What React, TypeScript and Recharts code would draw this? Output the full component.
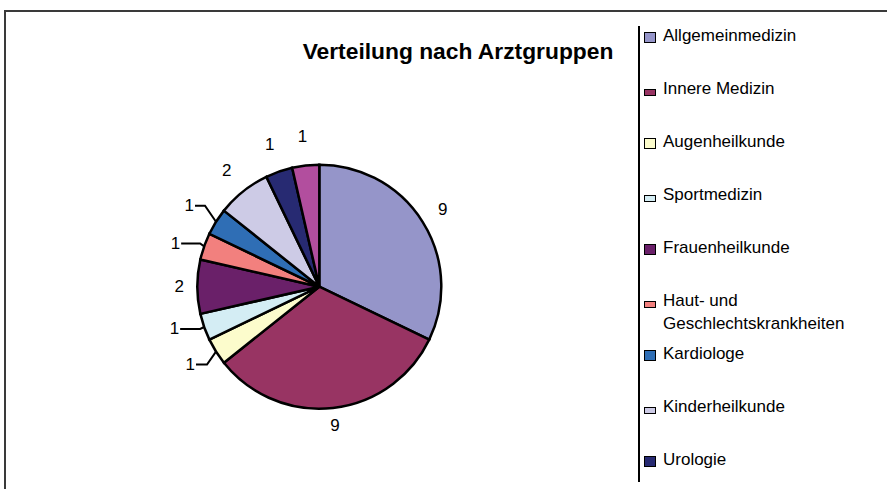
import React from "react";
import { PieChart, Pie, Cell } from "recharts";

const categories = [
  "Allgemeinmedizin",
  "Innere Medizin",
  "Augenheilkunde",
  "Sportmedizin",
  "Frauenheilkunde",
  "Haut- und Geschlechtskrankheiten",
  "Kardiologe",
  "Kinderheilkunde",
  "Urologie",
  "Sonstige",
];
const counts = [9, 9, 1, 1, 2, 1, 1, 2, 1, 1];
const colors = [
  "#9595C9",
  "#983463",
  "#FCFCCC",
  "#D4EDF4",
  "#6A2069",
  "#F2807E",
  "#2F6EB5",
  "#CDCBE6",
  "#272A72",
  "#B24E9E",
];
const legendCount = 9;
const legendLines: Record<number, string[]> = { 5: ["Haut- und", "Geschlechtskrankheiten"] };

const data = categories.map((name, i) => ({ name, value: counts[i] }));

const FONT = '"Liberation Sans", Arial, sans-serif';
const R = 122;
// styling: leader line offsets [elbow dx, elbow dy, horizontal length]
const leaderStyle: Record<number, [number, number, number]> = {
  2: [-9, 13, 11],
  3: [-4, 2, 20],
  5: [-4, -3, 19],
  6: [-11, -16, 10],
};

const RAD = Math.PI / 180;

const renderLabel = (props: any) => {
  const { cx, cy, midAngle, outerRadius, index, value } = props;
  const c = Math.cos(-midAngle * RAD);
  const s = Math.sin(-midAngle * RAD);
  const ld = leaderStyle[index];
  if (ld) {
    const ex = cx + outerRadius * c;
    const ey = cy + outerRadius * s;
    const bx = ex + ld[0];
    const by = ey + ld[1];
    const hx = bx - ld[2];
    return (
      <g key={`lbl-${index}`}>
        <polyline
          points={`${ex},${ey} ${bx},${by} ${hx},${by}`}
          fill="none"
          stroke="#000"
          strokeWidth={2}
        />
        <text
          x={hx - 1}
          y={by}
          textAnchor="end"
          dominantBaseline="central"
          fontFamily={FONT}
          fontSize={17}
          fill="#000"
        >
          {value}
        </text>
      </g>
    );
  }
  const up = Math.max(0, -s);
  const r = outerRadius + 18 + 11 * up;
  return (
    <text
      key={`lbl-${index}`}
      x={cx + r * c}
      y={cy + r * s}
      textAnchor="middle"
      dominantBaseline="central"
      fontFamily={FONT}
      fontSize={17}
      fill="#000"
    >
      {value}
    </text>
  );
};

export default function App() {
  return (
    <div
      style={{
        position: "absolute",
        left: 0,
        top: 0,
        width: 887,
        height: 489,
        background: "#fff",
        overflow: "hidden",
        fontFamily: FONT,
      }}
    >
      <div style={{ position: "absolute", left: 4, top: 10, width: 883, height: 2, background: "#3a3a3a" }} />
      <div style={{ position: "absolute", left: 4, top: 10, width: 2, height: 479, background: "#3a3a3a" }} />
      <div
        style={{
          position: "absolute",
          left: 258,
          top: 38,
          width: 400,
          lineHeight: "26px",
          textAlign: "center",
          fontWeight: "bold",
          fontSize: 22.8,
          color: "#000",
        }}
      >
        Verteilung nach Arztgruppen
      </div>
      <div style={{ position: "absolute", left: 0, top: 0 }}>
        <PieChart width={887} height={489} margin={{ top: 0, right: 0, bottom: 0, left: 0 }}>
          <Pie
            data={data}
            dataKey="value"
            nameKey="name"
            cx={319.3}
            cy={286.7}
            outerRadius={R}
            startAngle={90}
            endAngle={-270}
            stroke="#000"
            strokeWidth={2.5}
            label={renderLabel}
            labelLine={false}
            isAnimationActive={false}
          >
            {data.map((d, i) => (
              <Cell key={d.name} fill={colors[i]} />
            ))}
          </Pie>
        </PieChart>
      </div>
      <div style={{ position: "absolute", left: 638, top: 26, width: 2, height: 456, background: "#000" }} />
      <div style={{ position: "absolute", left: 644, top: 25.4 }}>
        {categories.slice(0, legendCount).map((name, i) => {
          const h = i % 2 === 0 ? 11 : 7;
          const lines = legendLines[i] || [name];
          return (
            <div key={name} style={{ display: "flex", height: 53, alignItems: "flex-start" }}>
              <div
                style={{
                  width: 12,
                  height: h,
                  marginTop: 18 - h,
                  boxSizing: "border-box",
                  border: "1.6px solid #000",
                  background: colors[i],
                  flex: "none",
                }}
              />
              <div
                style={{
                  marginLeft: 7,
                  fontSize: 17,
                  lineHeight: "22.6px",
                  color: "#000",
                  whiteSpace: "nowrap",
                }}
              >
                {lines.map((l) => (
                  <div key={l}>{l}</div>
                ))}
              </div>
            </div>
          );
        })}
      </div>
    </div>
  );
}
